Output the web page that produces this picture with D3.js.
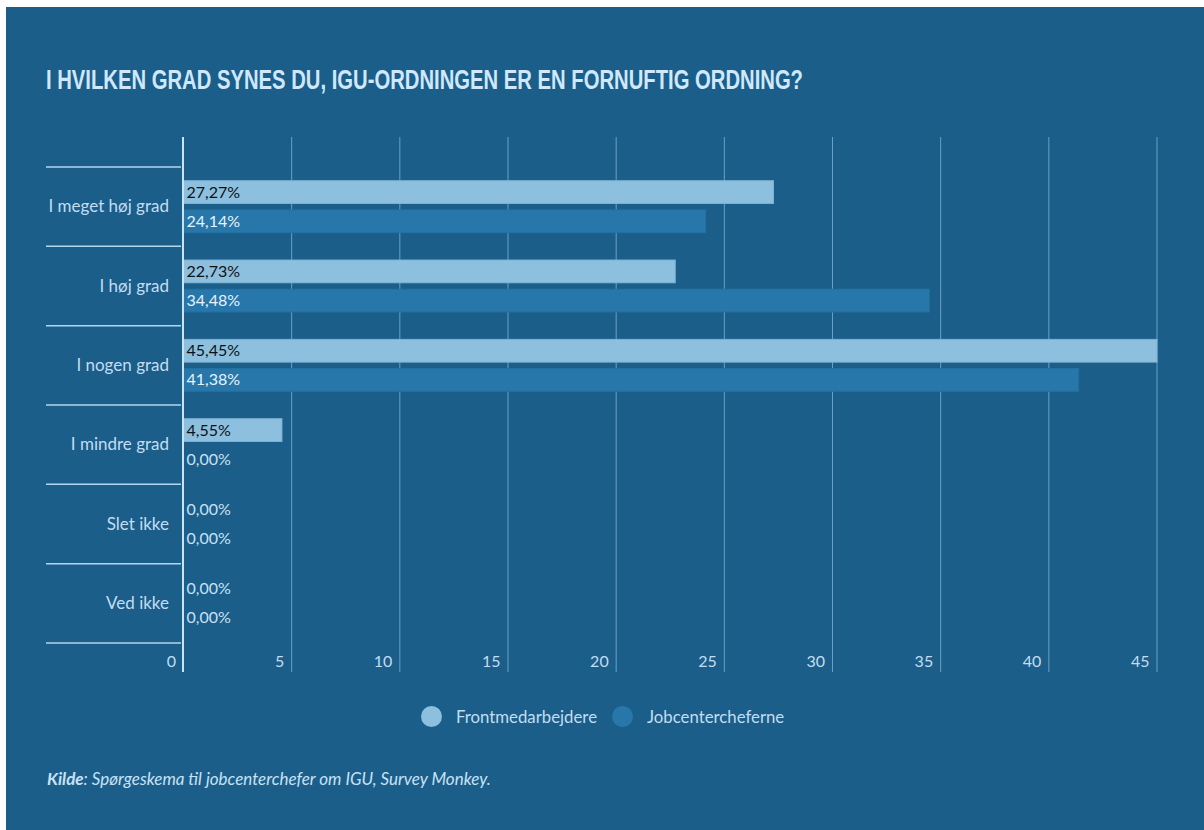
<!DOCTYPE html>
<html lang="da">
<head>
  <meta charset="UTF-8">
  <title>IGU-ordningen</title>
  <style>
    body { margin: 0; background: #ffffff; }
    svg { display: block; font-family: 'Lato', 'Noto Sans', sans-serif; }
    .cat { fill: #c2ddf1; font-size: 17px; }
    .tick text { fill: #c2ddf1; font-size: 16px; }
    .lbl { font-size: 16px; }
    .legend text { fill: #c2ddf1; font-size: 16.8px; }
  </style>
  <script src="https://cdn.jsdelivr.net/npm/d3@7"></script>
</head>
<body>
<svg id="chart" width="1204" height="830"></svg>
<script>
// data
let categories = ["I meget høj grad", "I høj grad", "I nogen grad", "I mindre grad", "Slet ikke", "Ved ikke"]
let seriesNames = ["Frontmedarbejdere", "Jobcentercheferne"]
let frontValues = [27.27, 22.73, 45.45, 4.55, 0, 0]
let chefValues = [24.14, 34.48, 41.38, 0, 0, 0]
let xTicks = [0, 5, 10, 15, 20, 25, 30, 35, 40, 45]

let colors = ["#8dbfdf", "#2777ab"]

let rows = categories.map((c, i) => ({
  name: c,
  values: [
    { series: seriesNames[0], value: frontValues[i] },
    { series: seriesNames[1], value: chefValues[i] }
  ]
}))

let svg = d3.select("#chart")

// blue panel (white strip left/top like the original)
svg.append("rect")
  .attr("x", 6).attr("y", 7)
  .attr("width", 1204 - 6).attr("height", 830 - 7)
  .attr("fill", "#1b5e89")

svg.append("text")
  .attr("x", 46).attr("y", 89)
  .attr("fill", "#cfe8fb")
  .style("font-family", "'Liberation Sans Narrow', 'Liberation Sans', sans-serif")
  .style("font-weight", "bold")
  .style("font-size", "27px")
  .attr("textLength", 757)
  .attr("lengthAdjust", "spacingAndGlyphs")
  .text("I HVILKEN GRAD SYNES DU, IGU-ORDNINGEN ER EN FORNUFTIG ORDNING?")

let x = d3.scaleLinear().domain([0, 45]).range([183.5, 1157]).clamp(true)
let y = d3.scaleBand().domain(categories).range([167, 643])
let yInner = d3.scaleBand().domain(seriesNames).range([0, y.bandwidth()])
  .paddingInner(0.22).paddingOuter(0.47)

let gridTop = 137, gridBottom = 672

// grid lines
svg.append("g")
  .selectAll("line")
  .data(xTicks.slice(1))
  .join("line")
  .attr("x1", d => x(d)).attr("x2", d => x(d))
  .attr("y1", gridTop).attr("y2", gridBottom)
  .attr("stroke", "#6b9fc6")
  .attr("stroke-width", 1)

// x tick labels
let xAxis = d3.axisBottom(x)
  .tickValues(xTicks)
  .tickSize(0)
  .tickPadding(0)
let gx = svg.append("g").attr("transform", "translate(0,667)").call(xAxis)
gx.select(".domain").remove()
gx.selectAll(".tick text")
  .attr("text-anchor", "end")
  .attr("x", -8)
  .attr("y", 0)
  .attr("dy", 0)
  .style("font-family", "'Lato', sans-serif")

// category separators
svg.append("g")
  .selectAll("line")
  .data(categories.map(c => y(c)).concat([y.range()[1]]))
  .join("line")
  .attr("x1", 46).attr("x2", 181)
  .attr("y1", d => d).attr("y2", d => d)
  .attr("stroke", "#b3d6ef")
  .attr("stroke-width", 1.5)

// category labels
svg.append("g")
  .selectAll("text")
  .data(categories)
  .join("text")
  .attr("class", "cat")
  .attr("x", 169)
  .attr("y", d => y(d) + y.bandwidth() / 2 + 5.5)
  .attr("text-anchor", "end")
  .text(d => d)

// bars
let groups = svg.append("g")
  .selectAll("g")
  .data(rows)
  .join("g")
  .attr("transform", d => "translate(0," + y(d.name) + ")")

groups.selectAll("rect")
  .data(d => d.values)
  .join("rect")
  .attr("x", x(0))
  .attr("y", d => yInner(d.series))
  .attr("width", d => x(d.value) - x(0))
  .attr("height", yInner.bandwidth())
  .attr("fill", (d, i) => colors[i])
  .attr("stroke", (d, i) => i == 0 ? "#7fb3d5" : "#2470a3")
  .attr("stroke-width", 1)
  .attr("display", d => d.value > 0 ? null : "none")

groups.selectAll("text")
  .data(d => d.values)
  .join("text")
  .attr("class", "lbl")
  .attr("x", x(0) + 3)
  .attr("y", d => yInner(d.series) + yInner.bandwidth() / 2 + 5.5)
  .attr("fill", (d, i) => (i == 0 && d.value > 0) ? "#111111" : (d.value > 0 ? "#e8f2fa" : "#c8e2f5"))
  .text(d => d3.format(".2f")(d.value).replace(".", ",") + "%")

// zero axis line
svg.append("line")
  .attr("x1", x(0) - 0.5).attr("x2", x(0) - 0.5)
  .attr("y1", gridTop).attr("y2", gridBottom)
  .attr("stroke", "#c8e3f6")
  .attr("stroke-width", 2)

// legend
let legend = svg.append("g").attr("class", "legend")
let legendX = [431.5, 622.5]
seriesNames.forEach((s, i) => {
  legend.append("circle")
    .attr("cx", legendX[i]).attr("cy", 716.5).attr("r", 10.5)
    .attr("fill", colors[i])
  legend.append("text")
    .attr("x", legendX[i] + 24.5).attr("y", 722.5)
    .text(s)
})

// source
let src = svg.append("text")
  .attr("x", 47).attr("y", 785)
  .attr("fill", "#c8e2f5")
  .style("font-size", "17px")
  .style("font-style", "italic")
src.append("tspan").style("font-weight", "bold").text("Kilde")
src.append("tspan").text(": Spørgeskema til jobcenterchefer om IGU, Survey Monkey.")
</script>
</body>
</html>
